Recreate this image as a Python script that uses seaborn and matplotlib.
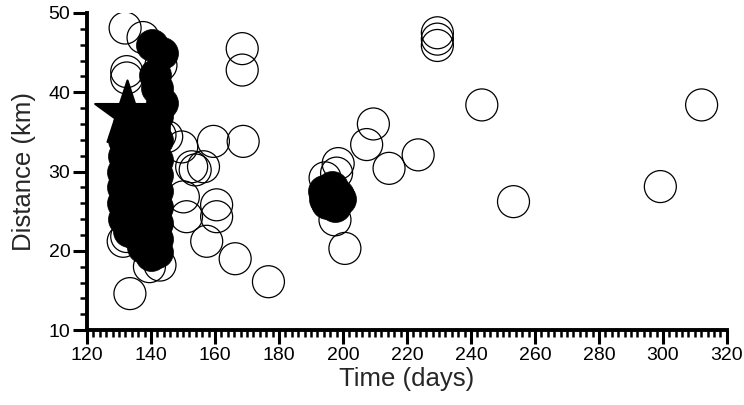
import matplotlib
matplotlib.use("Agg")
import matplotlib.pyplot as plt
from matplotlib.ticker import MultipleLocator
import seaborn as sns

# open circles (time in days, distance in km)
open_x = [131.9, 137.5, 132.4, 132.4, 143.1, 168.5, 168.5,
          142.8, 144.9, 149.6, 159.5, 168.8, 156.4, 153.8, 152.7,
          150.1, 160.5, 160.5, 151.1, 157.4, 166.3, 176.7, 133.4,
          139.5, 142.8, 131.3, 132.4,
          198.5, 198.0, 194.4, 197.5, 200.6,
          209.5, 207.4, 214.4, 223.5, 229.5, 229.5, 229.5,
          243.4, 253.3, 299.2, 312.1]
open_y = [48.1, 46.9, 42.6, 41.8, 43.4, 45.5, 42.8,
          34.6, 34.4, 33.1, 33.8, 33.8, 30.6, 30.2, 30.6,
          26.8, 25.8, 24.3, 24.3, 21.2, 19.0, 16.1, 14.6,
          18.0, 18.2, 21.2, 21.8,
          31.0, 29.8, 29.2, 23.9, 20.3,
          36.0, 33.4, 30.4, 32.1, 47.5, 46.7, 45.9,
          38.4, 26.2, 28.1, 38.4]

# filled circles
filled_x = [140.2, 143.3, 141.3, 143.3, 142.0,
            133.0, 135.5, 138.0, 141.0, 142.0,
            131.5, 134.0, 137.0, 140.0, 142.0,
            131.5, 134.0, 137.0, 140.0, 142.0,
            131.3, 134.0, 137.0, 140.0, 142.0,
            131.3, 134.0, 137.0, 140.0, 142.0,
            131.3, 134.0, 137.0, 140.0, 142.0,
            131.5, 134.0, 137.0, 140.0, 142.0,
            133.0, 135.5, 138.0, 140.5, 142.0,
            137.5, 140.0, 142.0,
            194.0, 196.5, 198.5, 195.0, 197.5, 199.0, 194.5]
filled_y = [46.0, 44.9, 42.2, 38.6, 40.5,
            36.0, 36.5, 36.0, 35.5, 37.0,
            34.0, 34.5, 34.0, 33.5, 34.0,
            32.0, 32.0, 32.5, 32.0, 31.5,
            30.0, 30.0, 30.0, 30.0, 29.5,
            28.0, 28.0, 28.5, 28.0, 27.5,
            26.0, 26.0, 26.5, 26.0, 25.5,
            24.0, 24.0, 24.0, 24.0, 23.5,
            22.5, 22.0, 22.0, 22.0, 21.5,
            20.5, 19.5, 19.8,
            27.5, 28.0, 27.0, 26.0, 25.6, 26.5, 26.5]

# star (main event)
star_x = [132.5]
star_y = [37.3]

sns.set_style("ticks")
plt.rcParams['font.family'] = ['Liberation Sans', 'DejaVu Sans']

fig = plt.figure(figsize=(7.44, 4.05), dpi=100)
ax = fig.add_axes([0.117, 0.185, 0.86, 0.783])

sns.scatterplot(x=open_x, y=open_y, ax=ax, marker='o', s=530,
                facecolor='none', edgecolor='black', linewidth=0.9)
sns.scatterplot(x=filled_x, y=filled_y, ax=ax, marker='o', s=530,
                color='black', edgecolor='black', linewidth=0.5)
sns.scatterplot(x=star_x, y=star_y, ax=ax, marker='*', s=2400,
                color='black', edgecolor='black', linewidth=1.5)

ax.set_xlim(120, 320)
ax.set_ylim(10, 50)
ax.xaxis.set_major_locator(MultipleLocator(20))
ax.xaxis.set_minor_locator(MultipleLocator(2))
ax.yaxis.set_major_locator(MultipleLocator(10))
ax.yaxis.set_minor_locator(MultipleLocator(2))

for side in ['top', 'right']:
    ax.spines[side].set_visible(False)
for side in ['left', 'bottom']:
    ax.spines[side].set_linewidth(2.8)
    ax.spines[side].set_color('black')

ax.tick_params(which='major', direction='out', length=10, width=2.2, colors='black',
               labelsize=14, pad=2)
ax.tick_params(which='minor', direction='out', length=5, width=1.8, colors='black')

ax.set_xlabel('Time (days)', fontsize=18.5, labelpad=2)
ax.set_ylabel('Distance (km)', fontsize=18.5, labelpad=9)

fig.savefig('out.png', dpi=100)
